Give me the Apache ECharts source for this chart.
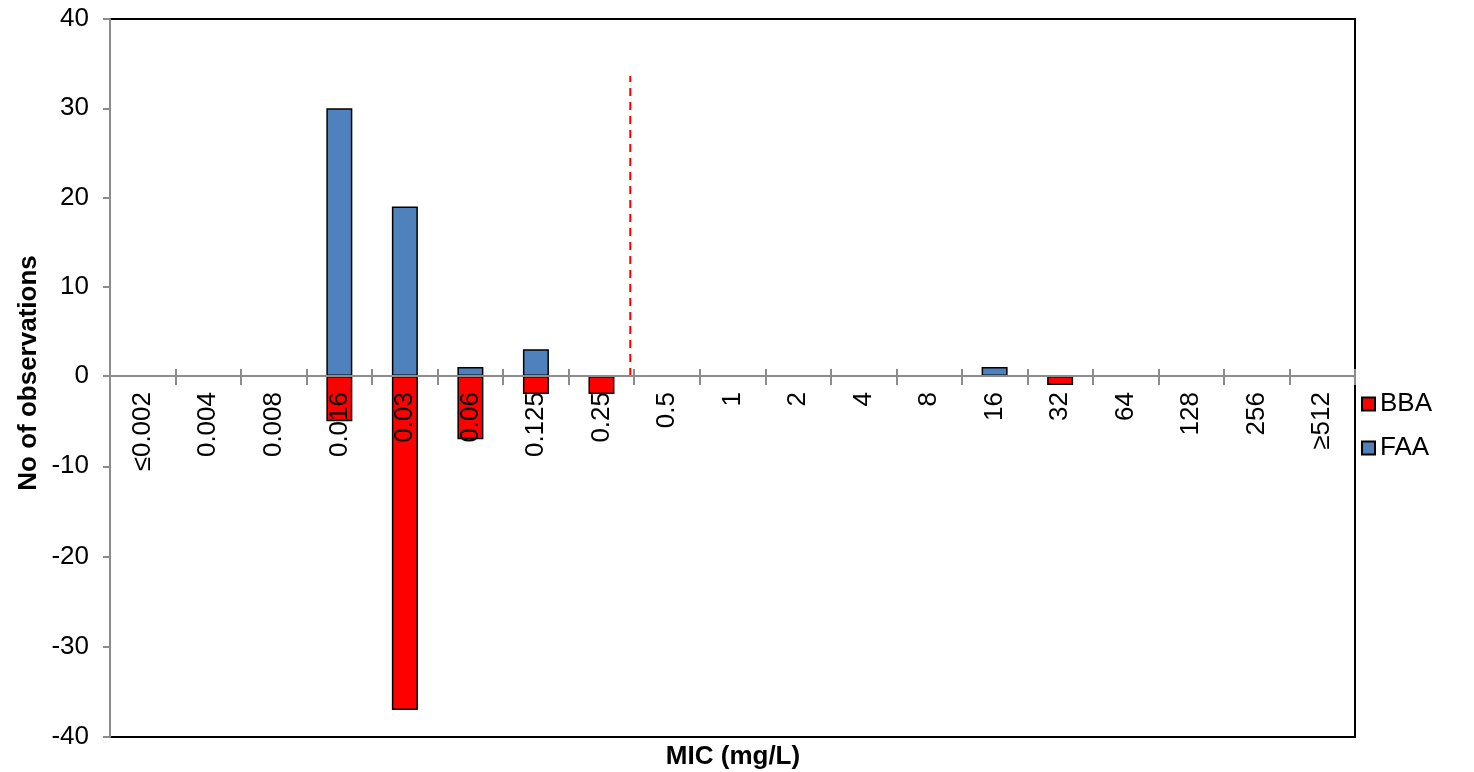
<!DOCTYPE html>
<html>
<head>
<meta charset="utf-8">
<title>MIC distribution</title>
<script src="https://cdn.jsdelivr.net/npm/echarts@6/dist/echarts.min.js"></script>
<style>
  html, body { margin: 0; padding: 0; background: #fff; }
  #chart { width: 1474px; height: 772px; }
</style>
</head>
<body>
<div id="chart"></div>
<script>
// MIC dilution steps (mg/L)
const categories = ['≤0.002', '0.004', '0.008', '0.016', '0.03', '0.06', '0.125', '0.25', '0.5',
  '1', '2', '4', '8', '16', '32', '64', '128', '256', '≥512'];
// Counts per method; BBA plotted downward as negative counts
const faaCounts = [0, 0, 0, 30, 19, 1, 3, 0, 0, 0, 0, 0, 0, 1, 0, 0, 0, 0, 0];
const bbaCounts = [0, 0, 0, -5, -37, -7, -2, -2, 0, 0, 0, 0, 0, 0, -1, 0, 0, 0, 0];
// y-axis scale
const yMin = -40, yMax = 40, yStep = 10;
// breakpoint marker: position in category slots and its height
const breakpointX = 7.94;
const breakpointTop = 33.6;

// empty classes draw no bar
const blankZero = v => (v === 0 ? '-' : v);

const chart = echarts.init(document.getElementById('chart'));
const font = '"Liberation Sans", Arial, sans-serif';
const axisGrey = '#8c8c8c';
const fs = 26;

// Plot is split at zero: upper half for positive counts, lower half for negative
const plotLeft = 110, plotRight = 119, plotTop = 19, plotBottom = 35, zeroY = 376;

chart.setOption({
  animation: false,
  textStyle: { fontFamily: font },
  grid: [
    {
      left: plotLeft, right: plotRight, top: plotTop, height: zeroY - plotTop,
      outerBoundsMode: 'none',
      show: true, borderColor: '#000', borderWidth: 2, backgroundColor: '#fff'
    },
    {
      left: plotLeft, right: plotRight, top: zeroY, bottom: plotBottom,
      outerBoundsMode: 'none',
      show: true, borderColor: '#000', borderWidth: 2, backgroundColor: '#fff'
    }
  ],
  legend: {
    orient: 'vertical',
    left: 1356, top: 386,
    itemWidth: 13, itemHeight: 13, itemGap: 18,
    icon: 'rect',
    textStyle: { fontFamily: font, fontSize: fs, color: '#000' },
    data: ['BBA', 'FAA']
  },
  xAxis: [
    {
      gridIndex: 0, type: 'category', data: categories, position: 'bottom', z: 5,
      axisLine: { onZero: false, lineStyle: { color: axisGrey, width: 2 } },
      axisTick: { show: true, inside: true, length: 7, lineStyle: { color: axisGrey, width: 2 } },
      axisLabel: { show: false },
      splitLine: { show: false }
    },
    {
      gridIndex: 1, type: 'category', data: categories, position: 'top', z: 5,
      axisLine: { onZero: false, lineStyle: { color: axisGrey, width: 2 } },
      axisTick: { show: true, inside: true, length: 9, lineStyle: { color: axisGrey, width: 2 } },
      axisLabel: {
        inside: true, rotate: -90, margin: 16, interval: 0,
        fontSize: fs, color: '#000', fontFamily: font
      },
      splitLine: { show: false }
    },
    {
      gridIndex: 0, type: 'value', min: 0, max: categories.length, show: false
    }
  ],
  yAxis: [
    {
      gridIndex: 0, type: 'value', min: 0, max: yMax, interval: yStep,
      axisLine: { show: true, lineStyle: { color: axisGrey, width: 2 } },
      axisTick: { show: true, length: 7, lineStyle: { color: axisGrey, width: 2 } },
      axisLabel: { fontSize: fs, color: '#000', fontFamily: font, margin: 21 },
      splitLine: { show: false }
    },
    {
      gridIndex: 1, type: 'value', min: yMin, max: 0, interval: yStep,
      axisLine: { show: true, lineStyle: { color: axisGrey, width: 2 } },
      axisTick: { show: true, length: 7, lineStyle: { color: axisGrey, width: 2 } },
      axisLabel: { fontSize: fs, color: '#000', fontFamily: font, margin: 21, showMaxLabel: false },
      splitLine: { show: false }
    }
  ],
  graphic: [
    {
      type: 'text', x: 29, y: 373, rotation: Math.PI / 2,
      style: { text: 'No of observations', font: 'bold 26px ' + font, fill: '#000', align: 'center', verticalAlign: 'middle' }
    },
    {
      type: 'text', x: 733, y: 757,
      style: { text: 'MIC (mg/L)', font: 'bold 26px ' + font, fill: '#000', align: 'center', verticalAlign: 'middle' }
    }
  ],
  series: [
    {
      name: 'BBA', type: 'bar', data: bbaCounts.map(blankZero),
      xAxisIndex: 1, yAxisIndex: 1, barWidth: 26,
      itemStyle: { color: '#ff0000', borderColor: '#000', borderWidth: 1.5 }
    },
    {
      name: 'FAA', type: 'bar', data: faaCounts.map(blankZero),
      xAxisIndex: 0, yAxisIndex: 0, barWidth: 26,
      itemStyle: { color: '#4f81bd', borderColor: '#000', borderWidth: 1.5 }
    },
    {
      name: 'breakpoint', type: 'line', xAxisIndex: 2, yAxisIndex: 0,
      data: [[breakpointX, 0], [breakpointX, breakpointTop]],
      symbol: 'none', silent: true,
      lineStyle: { color: '#ff0000', width: 2, type: [8, 6] }
    }
  ]
});
</script>
</body>
</html>
